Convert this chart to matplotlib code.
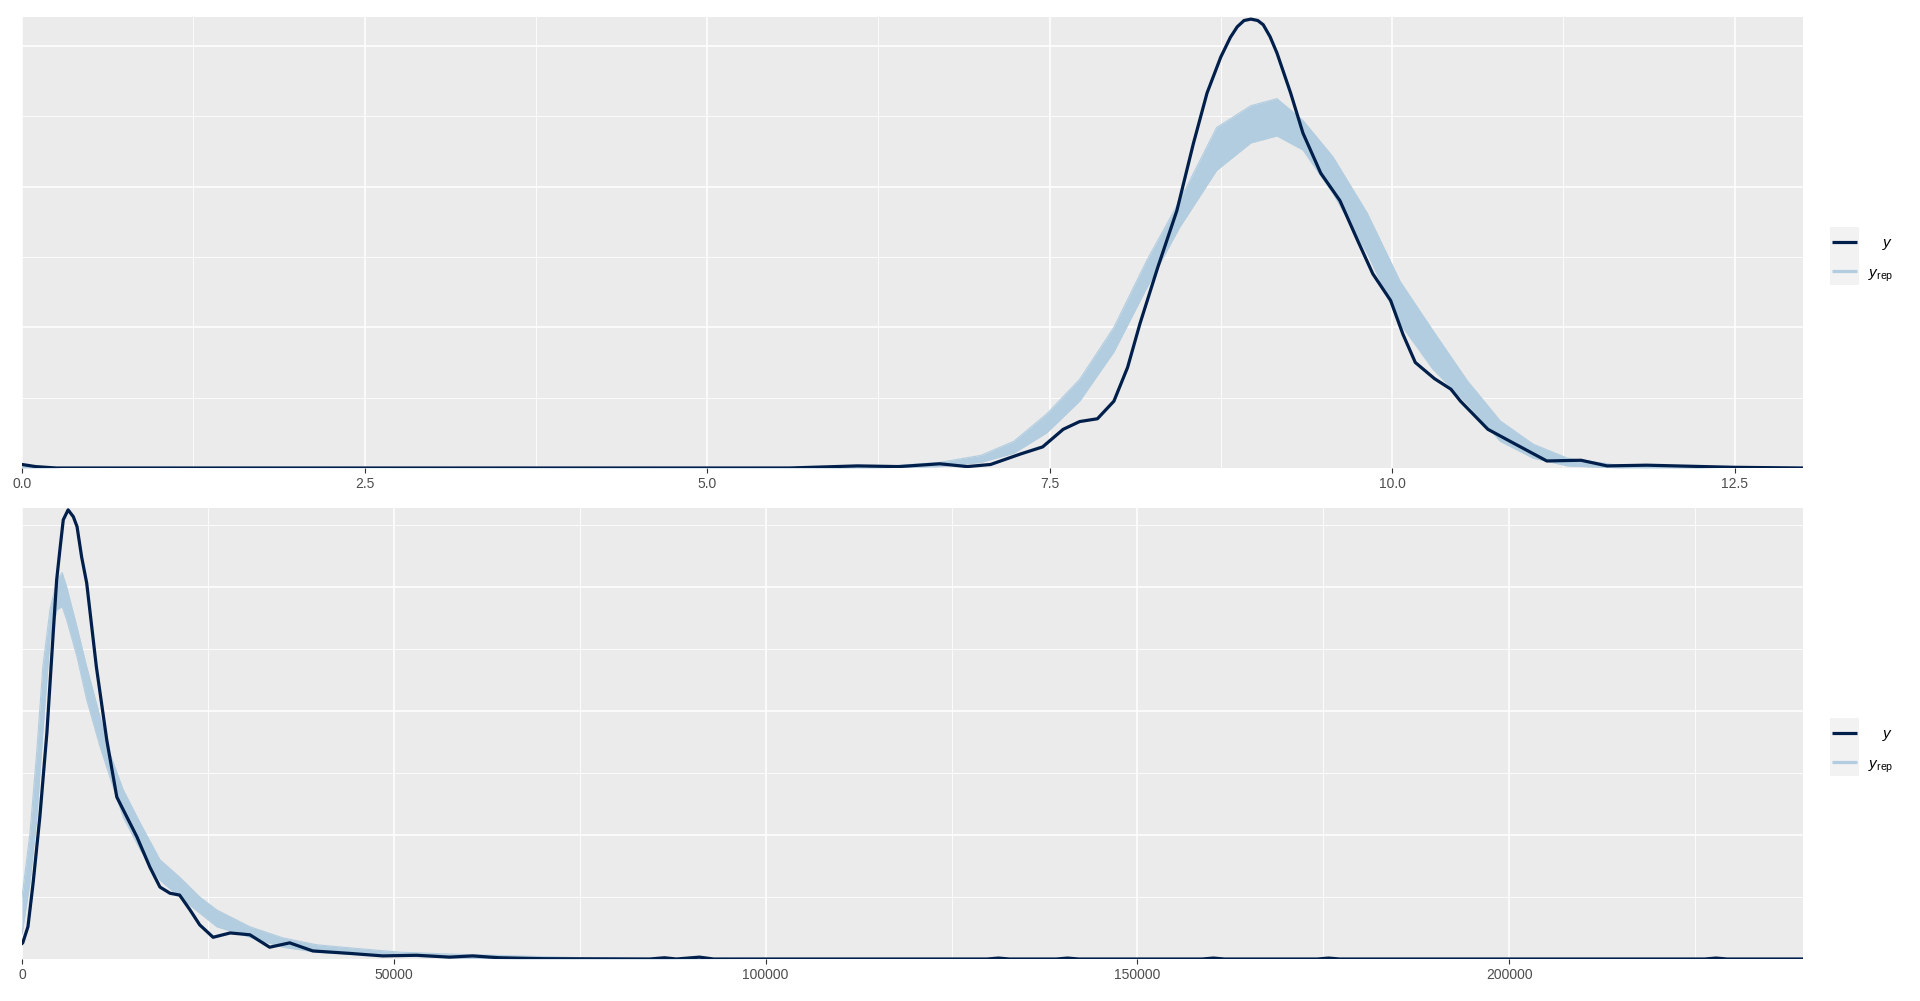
import matplotlib

matplotlib.use("Agg")
import matplotlib.pyplot as plt
import numpy as np
from matplotlib.lines import Line2D
from matplotlib.patches import Rectangle

W, H = 1920, 1001

DARK = "#011f4b"
LIGHT = "#b3cde0"
PANEL_BG = "#ebebeb"
KEY_BG = "#f2f2f2"

# top panel: density of y (log scale) against replicated draws
top_y_x = [0.00, 0.10, 0.25, 5.60, 6.10, 6.40, 6.70, 6.90, 7.07, 7.29, 7.45, 7.60, 7.72, 7.85,
           7.97, 8.07, 8.16, 8.29, 8.43, 8.55, 8.65, 8.75, 8.82, 8.87, 8.92, 8.97, 9.02, 9.06,
           9.11, 9.16, 9.26, 9.35, 9.48, 9.62, 9.75, 9.86, 9.99, 10.08, 10.17, 10.31, 10.43,
           10.50, 10.70, 10.89, 11.13, 11.38, 11.57, 11.86, 12.49, 13.00]
top_y_dens = [0.005, 0.002, 0.000, 0.000, 0.003, 0.002, 0.006, 0.002, 0.005, 0.020, 0.030, 0.055,
              0.066, 0.070, 0.095, 0.143, 0.205, 0.285, 0.366, 0.461, 0.533, 0.584, 0.612, 0.627,
              0.636, 0.638, 0.636, 0.630, 0.613, 0.590, 0.533, 0.476, 0.419, 0.380, 0.323, 0.276,
              0.238, 0.190, 0.150, 0.127, 0.112, 0.095, 0.055, 0.035, 0.010, 0.011, 0.003, 0.004,
              0.001, 0.000]
top_rep_x = [0.00, 0.30, 6.20, 6.70, 7.00, 7.24, 7.48, 7.72, 7.97, 8.21, 8.45, 8.72, 8.97, 9.16,
             9.35, 9.57, 9.82, 10.06, 10.30, 10.55, 10.79, 11.03, 11.28, 11.65, 12.01, 12.40, 13.00]
top_rep_lo = [0.000, 0.000, 0.000, 0.002, 0.008, 0.021, 0.050, 0.095, 0.165, 0.256, 0.342, 0.423,
              0.462, 0.472, 0.452, 0.390, 0.305, 0.205, 0.140, 0.091, 0.038, 0.014, 0.003, 0.000,
              0.000, 0.000, 0.000]
top_rep_hi = [0.004, 0.000, 0.001, 0.008, 0.018, 0.038, 0.077, 0.126, 0.200, 0.295, 0.380, 0.484,
              0.515, 0.525, 0.494, 0.442, 0.362, 0.265, 0.195, 0.124, 0.067, 0.034, 0.014, 0.004,
              0.002, 0.000, 0.000]
top_xticks = [0.0, 2.5, 5.0, 7.5, 10.0, 12.5]
top_xlabels = ["0.0", "2.5", "5.0", "7.5", "10.0", "12.5"]

# bottom panel: density of y (raw scale), densities in units of 1e-5
bot_y_x = [0, 100, 800, 1500, 2400, 3350, 4200, 4660, 5100, 5550, 6200, 6900, 7400, 8020, 8700,
           10000, 11400, 12750, 14100, 15450, 17200, 18550, 19900, 21200, 22600, 23900, 25700,
           28000, 30650, 33300, 36000, 39100, 44100, 48500, 53100, 57500, 60600, 64200, 70000,
           84400, 86400, 88000, 91100, 93000, 129800, 131300, 132800, 139100, 140600, 142100,
           158700, 160200, 161700, 174200, 175700, 177200, 226300, 227800, 229300, 239500]
bot_y_dens = [0.25, 0.26, 0.52, 1.23, 2.29, 3.65, 5.26, 6.11, 6.60, 7.08, 7.24, 7.13, 6.97, 6.48,
              6.06, 4.71, 3.53, 2.61, 2.29, 1.97, 1.48, 1.16, 1.06, 1.03, 0.79, 0.55, 0.35, 0.42,
              0.39, 0.19, 0.26, 0.13, 0.09, 0.05, 0.06, 0.03, 0.05, 0.02, 0.005, 0.00, 0.02, 0.00,
              0.03, 0.00, 0.00, 0.015, 0.00, 0.00, 0.015, 0.00, 0.00, 0.015, 0.00, 0.00, 0.015,
              0.00, 0.00, 0.015, 0.00, 0.00]
bot_rep_x = [0, 1070, 2000, 2800, 3760, 4700, 5400, 6000, 7400, 8700, 10500, 11800, 13600, 15900,
             18550, 21200, 23900, 26200, 30650, 35100, 39600, 44100, 50800, 57500, 66500, 75400,
             90000, 100000, 239500]
bot_rep_lo = [0.40, 1.23, 2.29, 3.65, 5.15, 5.63, 5.68, 5.47, 4.87, 4.18, 3.42, 2.94, 2.29, 1.76,
              1.27, 1.00, 0.74, 0.52, 0.35, 0.19, 0.11, 0.08, 0.05, 0.02, 0.00, 0.00, 0.00, 0.00,
              0.00]
bot_rep_hi = [1.00, 2.03, 3.37, 4.71, 5.63, 6.11, 6.23, 6.00, 5.35, 4.71, 3.90, 3.32, 2.73, 2.19,
              1.60, 1.32, 1.00, 0.79, 0.52, 0.34, 0.23, 0.18, 0.11, 0.08, 0.05, 0.02, 0.005, 0.00,
              0.00]
bot_xticks = [0, 50000, 100000, 150000, 200000]
bot_xlabels = ["0", "50000", "100000", "150000", "200000"]


def fig_rect(left, top, right, bottom):
    return [left / W, 1 - bottom / H, (right - left) / W, (bottom - top) / H]


def style_axes(ax, xlim, ylim, xticks, xlabels, xminor, ymajor, yminor):
    ax.set_facecolor(PANEL_BG)
    for spine in ax.spines.values():
        spine.set_visible(False)
    ax.set_xlim(*xlim)
    ax.set_ylim(*ylim)
    ax.set_xticks(xticks)
    ax.set_xticklabels(xlabels)
    ax.set_xticks(xminor, minor=True)
    ax.set_yticks(ymajor)
    ax.set_yticks(yminor, minor=True)
    ax.tick_params(axis="x", which="major", length=3.5, width=0.8, color="#333333",
                   labelcolor="#4d4d4d", labelsize=10, pad=3)
    ax.tick_params(axis="x", which="minor", length=0)
    ax.tick_params(axis="y", which="both", length=0, labelleft=False)
    ax.grid(which="major", color="white", linewidth=1.1)
    ax.grid(which="minor", color="white", linewidth=0.6)
    ax.set_axisbelow(True)


def draw_band(ax, x, lo, hi):
    ax.fill_between(x, lo, hi, color=LIGHT, linewidth=0, zorder=2)
    for edge in (lo, hi):
        ax.plot(x, edge, color=LIGHT, linewidth=0.8, solid_joinstyle="round", zorder=2)


def draw_legend(fig, key_top):
    key_h = 29
    for i, color in enumerate([DARK, LIGHT]):
        top = key_top + i * key_h
        fig.add_artist(Rectangle((1830 / W, 1 - (top + key_h) / H), 29 / W, key_h / H,
                                 transform=fig.transFigure, facecolor=KEY_BG, edgecolor="none"))
        mid = 1 - (top + key_h / 2) / H
        fig.add_artist(Line2D([1832 / W, 1857 / W], [mid, mid], transform=fig.transFigure,
                              color=color, linewidth=2.3, solid_capstyle="butt"))
    fig.text(1888 / W, 1 - (key_top + 20) / H, r"$y$", ha="center", va="baseline", fontsize=11)
    fig.text(1868 / W, 1 - (key_top + 51) / H, r"$y_{\mathrm{rep}}$", ha="left", va="baseline",
             fontsize=11)


def main() -> None:
    plt.rcParams["font.family"] = ["Liberation Sans", "DejaVu Sans"]
    plt.rcParams["mathtext.fontset"] = "custom"
    plt.rcParams["mathtext.it"] = "Liberation Sans:italic"
    plt.rcParams["mathtext.rm"] = "Liberation Sans"

    fig = plt.figure(figsize=(W / 100, H / 100), dpi=100)

    ax_top = fig.add_axes(fig_rect(22, 17, 1803, 468))
    draw_band(ax_top, top_rep_x, top_rep_lo, top_rep_hi)
    ax_top.plot(top_y_x, top_y_dens, color=DARK, linewidth=2.3, solid_joinstyle="round", zorder=3)
    style_axes(ax_top, (0, 13.0), (0, 0.641), top_xticks, top_xlabels,
               np.arange(1.25, 13.0, 2.5), [0.2, 0.4, 0.6], [0.1, 0.3, 0.5])

    ax_bot = fig.add_axes(fig_rect(22, 508, 1803, 959))
    scale = 1e-5
    draw_band(ax_bot, bot_rep_x, np.array(bot_rep_lo) * scale, np.array(bot_rep_hi) * scale)
    ax_bot.plot(bot_y_x, np.array(bot_y_dens) * scale, color=DARK, linewidth=2.3,
                solid_joinstyle="round", zorder=3)
    style_axes(ax_bot, (0, 239500), (0, 7.27e-5), bot_xticks, bot_xlabels,
               np.arange(25000, 239500, 50000), [2e-5, 4e-5, 6e-5], [1e-5, 3e-5, 5e-5, 7e-5])

    draw_legend(fig, 227)
    draw_legend(fig, 718)

    fig.savefig("out.png", dpi=100, facecolor="white")
    plt.close(fig)


if __name__ == "__main__":
    main()
